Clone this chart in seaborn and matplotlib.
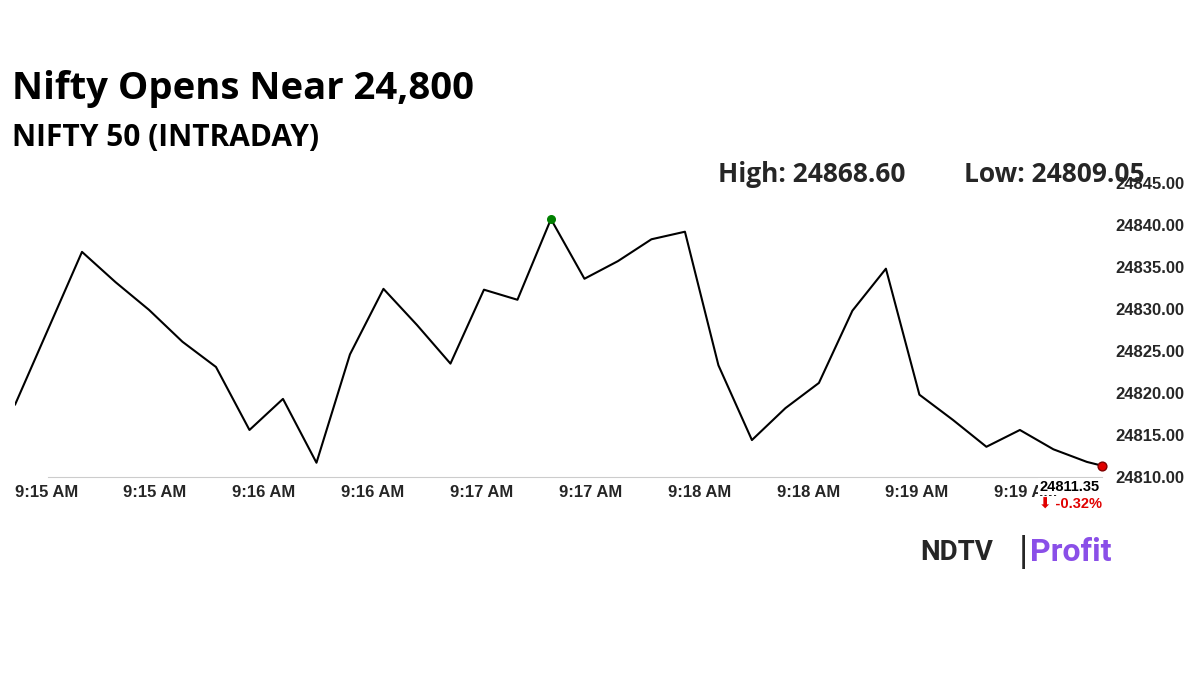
import matplotlib
matplotlib.use("Agg")
import matplotlib.pyplot as plt
import seaborn as sns
import pandas as pd
import numpy as np

values = [24818.6, 24827.7, 24836.8, 24833.2, 24829.9, 24826.1, 24823.1, 24815.6, 24819.3, 24811.7,
          24824.6, 24832.4, 24828.1, 24823.5, 24832.3, 24831.1, 24840.7, 24833.6, 24835.7, 24838.3,
          24839.2, 24823.3, 24814.4, 24818.2, 24821.2, 24829.8, 24834.8, 24819.8, 24816.8, 24813.6,
          24815.6, 24813.3, 24811.8, 24811.35]
tick_labels = ["9:15 AM", "9:15 AM", "9:16 AM", "9:16 AM", "9:17 AM", "9:17 AM",
               "9:18 AM", "9:18 AM", "9:19 AM", "9:19 AM"]
y_ticks = [24810, 24815, 24820, 24825, 24830, 24835, 24840, 24845]

x = list(np.arange(len(values) - 1, dtype=float)) + [32.45]
df = pd.DataFrame({"x": x, "v": values})

sns.set_style("white")
plt.rcParams['font.family'] = ['Liberation Sans', 'DejaVu Sans']
fig = plt.figure(figsize=(12, 6.75), dpi=100)
ax = fig.add_axes([0.0125, 0.2933, 0.9058, 0.4356])
sns.lineplot(data=df, x="x", y="v", color="black", lw=1.5, ax=ax)
imax = int(np.argmax(values))
ax.scatter([x[imax]], [values[imax]], color="green", s=30, zorder=5, clip_on=False)
ax.scatter([x[-1]], [values[-1]], color="#e00000", edgecolor="#800000", s=40, zorder=5, clip_on=False)
ax.set_xlim(0, 32.45)
ax.set_ylim(24810, 24845)
ax.set_xlabel(""); ax.set_ylabel("")
ax.set_xticks([0.93 + i * 3.25 for i in range(len(tick_labels))])
ax.set_xticklabels(tick_labels, fontsize=12, fontweight="bold")
ax.set_yticks(y_ticks)
ax.set_yticklabels([f"{v:.2f}" for v in y_ticks], fontsize=12, fontweight="bold")
ax.yaxis.tick_right()
ax.tick_params(axis="y", length=0, pad=10)
ax.tick_params(axis="x", length=0, pad=6)
for s in ["top", "left", "right"]:
    ax.spines[s].set_visible(False)
ax.spines["bottom"].set_color("#cccccc")
ax.spines["bottom"].set_bounds(1.0, 32.45)

bb = dict(boxstyle="square,pad=0.1", fc="white", ec="none")
ax.annotate(f"{values[-1]:.2f}", (x[-1], values[-1]), xytext=(-23, -18), textcoords="offset points",
            ha="center", fontsize=10.5, fontweight="bold", color="black", zorder=6, bbox=bb,
            annotation_clip=False)
ax.annotate("⬇ -0.32%", (x[-1], values[-1]), xytext=(-23, -31), textcoords="offset points",
            ha="center", fontsize=10.5, fontweight="bold", color="#e00000", zorder=6, bbox=bb,
            annotation_clip=False)

fig.text(0.01, 0.868, "Nifty Opens Near 24,800", fontsize=27.5, fontweight="bold",
         family="Open Sans", va="center", color="black")
fig.text(0.01, 0.795, "NIFTY 50 (INTRADAY)", fontsize=21.5, fontweight="bold",
         family="Open Sans", va="center", color="black")
fig.text(0.598, 0.742, "High: 24868.60", fontsize=19, fontweight="bold", family="Open Sans", va="center")
fig.text(0.803, 0.742, "Low: 24809.05", fontsize=19, fontweight="bold", family="Open Sans", va="center")
fig.text(0.767, 0.182, "NDTV", fontsize=20, fontweight="bold", family="Roboto", va="center")
fig.text(0.848, 0.182, "|", fontsize=24, family="DejaVu Sans", va="center")
fig.text(0.858, 0.182, "Profit", fontsize=23, fontweight="bold", family="Roboto", va="center", color="#8a4fe8")
fig.savefig("out.png", dpi=100)
